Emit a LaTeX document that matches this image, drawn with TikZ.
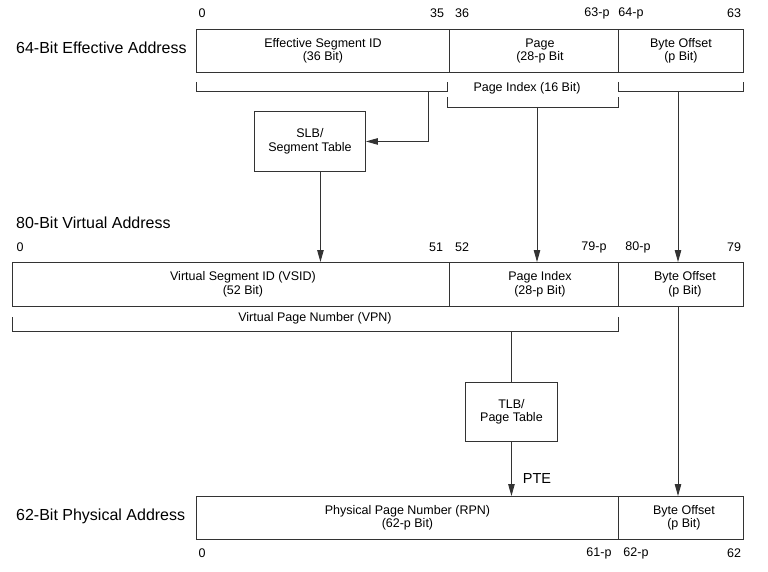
\documentclass[tikz,border=0pt]{standalone}
\usepackage{fontspec}
\setmainfont{Liberation Sans}
\usetikzlibrary{arrows.meta}
\begin{document}
\begin{tikzpicture}[x=1pt,y=-1pt,
  ln/.style={draw=black!80, line width=0.9pt},
  field/.style={ln, rectangle, inner sep=0pt, anchor=north west, align=center,
    font=\fontsize{12.5}{13.5}\selectfont},
  arr/.style={ln, -{Triangle[length=12pt,width=6.5pt]}},
  num/.style={font=\fontsize{12.5}{14}\selectfont, inner sep=0pt},
  ttl/.style={font=\fontsize{16}{18}\selectfont, inner sep=0pt, anchor=west},
  brk/.style={ln}]
\useasboundingbox (0,0) rectangle (768,572);

% ---- row titles
\node[ttl] (t64) at (16,48) {64-Bit Effective Address};
\node[ttl] (t80) at (16,223) {80-Bit Virtual Address};
\node[ttl] (t62) at (16,516) {62-Bit Physical Address};

% ---- effective address
\node[field, minimum width=253, minimum height=43] (esid) at (196,29) {Effective Segment ID\\(36 Bit)};
\node[field, minimum width=169, minimum height=43] (epage) at (449,29) {\hspace*{12pt}Page\\\hspace*{12pt}(28-p Bit};
\node[field, minimum width=125, minimum height=43] (eoff) at (618,29) {Byte Offset\\(p Bit)};

\node[num] (n0a) at (202,13) {0};
\node[num] (n35) at (437,13) {35};
\node[num] (n36) at (462,13) {36};
\node[num] (n63p) at (597,13) {63-p};
\node[num] (n64p) at (631,13) {64-p};
\node[num] (n63) at (734,13) {63};

% brackets under effective address
\draw[brk] (196,82) -- (196,91) -- (447,91) -- (447,82);
\draw[brk] (618,82) -- (618,91) -- (743,91) -- (743,82);
\draw[brk] (447,97) -- (447,107) -- (618,107) -- (618,97);
\node[num] (pix) at (527,88) {Page Index (16 Bit)};
\coordinate (esbr) at (428,91);
\coordinate (pibr) at (537,107);
\coordinate (bobr) at (678,91);

% SLB
\node[field, minimum width=111, minimum height=60] (slb) at (254,111) {SLB/\\Segment Table};
\draw[arr] (esbr) |- (slb.east);

% ---- virtual address
\node[field, minimum width=437, minimum height=44] (vsid) at (12,262) {\hspace*{24pt}Virtual Segment ID (VSID)\\\hspace*{24pt}(52 Bit)};
\node[field, minimum width=169, minimum height=44] (vpi) at (449,262) {\hspace*{12pt}Page Index\\\hspace*{12pt}(28-p Bit)};
\node[field, minimum width=125, minimum height=44] (vbo) at (618,262) {\hspace*{8pt}Byte Offset\\\hspace*{8pt}(p Bit)};

\node[num] (n0b) at (20,247) {0};
\node[num] (n51) at (436,247) {51};
\node[num] (n52) at (462,247) {52};
\node[num] (n79p) at (594,247) {79-p};
\node[num] (n80p) at (638,247) {80-p};
\node[num] (n79) at (734,247) {79};

\draw[arr] ([xshift=10.5pt]slb.south) -- ([xshift=10.5pt]slb.south |- vsid.north);
\draw[arr] (pibr) -- (pibr |- vpi.north);
\draw[arr] (bobr) -- (bobr |- vbo.north);

% VPN bracket
\draw[brk] (12,317) -- (12,331) -- (618,331) -- (618,317);
\node[num] (vpn) at (315,318) {Virtual Page Number (VPN)};
\coordinate (vpnbr) at (511,331);

% TLB
\node[field, minimum width=92, minimum height=59] (tlb) at (465,382) {TLB/\\Page Table};
\draw[ln] (vpnbr) -- (vpnbr |- tlb.north);

% ---- physical address
\node[field, minimum width=422, minimum height=43] (rpn) at (196,496) {Physical Page Number (RPN)\\(62-p Bit)};
\node[field, minimum width=125, minimum height=43] (pbo) at (618,496) {\hspace*{6pt}Byte Offset\\\hspace*{6pt}(p Bit)};

\draw[arr] (tlb.south) -- (tlb.south |- rpn.north) node[pos=0.67, right=11pt, font=\fontsize{14.5}{16}\selectfont, inner sep=0pt] (pte) {PTE};
\draw[arr] (bobr |- vbo.south) -- (bobr |- pbo.north);

\node[num] (n0c) at (202,553) {0};
\node[num] (n61p) at (599,553) {61-p};
\node[num] (n62p) at (636,553) {62-p};
\node[num] (n62) at (734,553) {62};
\end{tikzpicture}
\end{document}
